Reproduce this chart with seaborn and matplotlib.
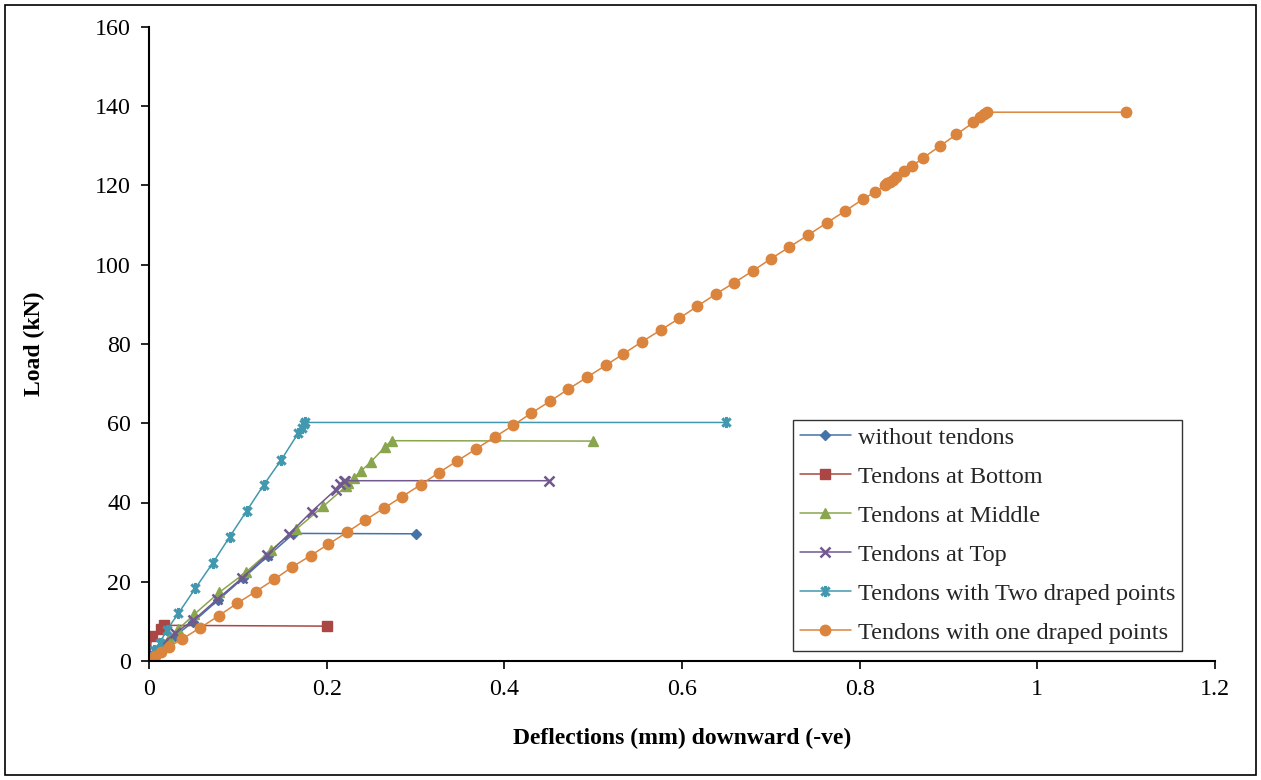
import matplotlib
matplotlib.use("Agg")
import matplotlib.pyplot as plt
import seaborn as sns
import numpy as np
from matplotlib.path import Path
from matplotlib.patches import Rectangle

# ---------------- data ----------------
labels = ["without tendons", "Tendons at Bottom", "Tendons at Middle",
          "Tendons at Top", "Tendons with Two draped points",
          "Tendons with one draped points"]

x_without = [0.0, 0.0045, 0.013, 0.029, 0.050, 0.078, 0.106, 0.134, 0.163, 0.300]
y_without = [0.0, 1.4, 3.6, 6.3, 9.9, 15.4, 20.9, 26.5, 32.2, 32.1]

x_bottom = [0.0, 0.003, 0.013, 0.017, 0.200]
y_bottom = [0.0, 6.3, 8.2, 9.0, 8.8]

x_middle = [0.0, 0.013, 0.023, 0.033, 0.051, 0.079, 0.109, 0.137, 0.166, 0.196,
            0.222, 0.224, 0.231, 0.239, 0.250, 0.266, 0.273, 0.500]
y_middle = [0.0, 3.5, 5.7, 8.0, 11.8, 17.3, 22.4, 27.9, 33.3, 39.0,
            44.1, 45.0, 46.3, 48.0, 50.3, 54.1, 55.6, 55.5]

x_top = [0.0, 0.005, 0.016, 0.029, 0.050, 0.077, 0.105, 0.133, 0.158, 0.183,
         0.210, 0.215, 0.219, 0.221, 0.450]
y_top = [0.0, 1.8, 4.5, 7.0, 10.3, 15.6, 21.0, 26.8, 32.1, 37.7,
         43.2, 44.7, 45.3, 45.5, 45.5]

x_two = [0.0, 0.0056, 0.012, 0.020, 0.033, 0.052, 0.072, 0.091, 0.110, 0.129,
         0.149, 0.168, 0.172, 0.174, 0.176, 0.650]
y_two = [0.0, 2.9, 4.5, 7.8, 12.0, 18.3, 24.8, 31.4, 37.9, 44.4,
         50.8, 57.5, 58.8, 59.8, 60.2, 60.2]

x_one = [0.0, 0.003, 0.0068, 0.013, 0.0229, 0.0368, 0.0578, 0.0784, 0.0994, 0.120,
         0.141, 0.161, 0.182, 0.202, 0.223, 0.243, 0.264, 0.285, 0.306, 0.326,
         0.347, 0.368, 0.389, 0.410, 0.430, 0.451, 0.472, 0.493, 0.514, 0.534,
         0.555, 0.576, 0.597, 0.617, 0.638, 0.659, 0.680, 0.700, 0.721, 0.742,
         0.763, 0.784, 0.804, 0.817, 0.829, 0.831, 0.834, 0.837, 0.841, 0.850,
         0.859, 0.871, 0.890, 0.909, 0.928, 0.936, 0.940, 0.943, 1.100]
y_one = [0.0, 0.6, 1.3, 2.2, 3.6, 5.5, 8.4, 11.4, 14.6, 17.5,
         20.6, 23.7, 26.6, 29.5, 32.5, 35.5, 38.5, 41.5, 44.5, 47.5,
         50.5, 53.5, 56.5, 59.5, 62.5, 65.5, 68.6, 71.6, 74.6, 77.5,
         80.6, 83.5, 86.5, 89.5, 92.6, 95.5, 98.5, 101.5, 104.5, 107.5,
         110.6, 113.6, 116.6, 118.3, 120.1, 120.6, 121.0, 121.5, 122.1, 123.6,
         124.9, 126.9, 129.9, 132.9, 135.9, 137.4, 138.0, 138.5, 138.5]

x_ticks = [0, 0.2, 0.4, 0.6, 0.8, 1.0, 1.2]
x_tick_labels = ["0", "0.2", "0.4", "0.6", "0.8", "1", "1.2"]
y_ticks = [0, 20, 40, 60, 80, 100, 120, 140, 160]
y_tick_labels = ["0", "20", "40", "60", "80", "100", "120", "140", "160"]

x_label = "Deflections (mm) downward (-ve)"
y_label = "Load (kN)"

# ---------------- style ----------------
sns.set_theme(style="white")
plt.rcParams["font.family"] = ["Liberation Serif", "DejaVu Serif"]

colors = ["#4572A7", "#AA4643", "#89A54E", "#71588F", "#4198AF", "#DB843D"]

star = Path([(0, 1), (0, -1), (0.75, 0.75), (-0.75, -0.75), (0.75, -0.75), (-0.75, 0.75)],
            [Path.MOVETO, Path.LINETO, Path.MOVETO, Path.LINETO, Path.MOVETO, Path.LINETO])

series = [
    (x_without, y_without, "D", 5.5, 1.0),
    (x_bottom, y_bottom, "s", 7.5, 1.0),
    (x_middle, y_middle, "^", 7.5, 1.0),
    (x_top, y_top, "x", 7.5, 1.8),
    (x_two, y_two, star, 8.0, 2.2),
    (x_one, y_one, "o", 7.5, 1.0),
]

fig = plt.figure(figsize=(12.61, 7.80), dpi=100)
ax = fig.add_axes([149 / 1261, 1 - 661 / 780, (1215 - 149) / 1261, (661 - 27) / 780])

for (xs, ys, mk, ms, mew), c, lab in zip(series, colors, labels):
    sns.lineplot(x=xs, y=ys, ax=ax, sort=False, estimator=None, color=c,
                 linewidth=1.1, marker=mk, markersize=ms, markeredgewidth=mew,
                 markeredgecolor=c, markerfacecolor=c, label=lab)

ax.set_xlim(0, 1.2)
ax.set_ylim(0, 160)
ax.set_xticks(x_ticks)
ax.set_xticklabels(x_tick_labels)
ax.set_yticks(y_ticks)
ax.set_yticklabels(y_tick_labels)
ax.tick_params(axis="both", which="both", direction="out", length=6, width=1.2,
               color="black", labelsize=17.3, labelcolor="black", pad=7,
               bottom=True, left=True)

for s in ["top", "right"]:
    ax.spines[s].set_visible(False)
for s in ["left", "bottom"]:
    ax.spines[s].set_visible(True)
    ax.spines[s].set_color("black")
    ax.spines[s].set_linewidth(1.5)

ax.set_xlabel(x_label, fontsize=17, fontweight="bold", color="black")
ax.set_ylabel(y_label, fontsize=17, fontweight="bold", color="black")
ax.xaxis.set_label_coords(0.5, (661 - 728) / 634)
ax.yaxis.set_label_coords((45 - 149) / 1066, 0.5)

leg = ax.legend(loc="upper left", bbox_to_anchor=((793 - 149) / 1066, (661 - 420) / 634),
                borderaxespad=0, fontsize=17.5, frameon=True, fancybox=False,
                edgecolor="black", handlelength=2.1, handletextpad=0.3,
                labelspacing=0.7, borderpad=0.28)
leg.get_frame().set_linewidth(1.0)

fig.patches.append(Rectangle((5 / 1261, 5 / 780), 1 - 10 / 1261, 1 - 10 / 780,
                             transform=fig.transFigure, fill=False,
                             edgecolor="black", linewidth=1.2))

fig.savefig("out.png", dpi=100)
